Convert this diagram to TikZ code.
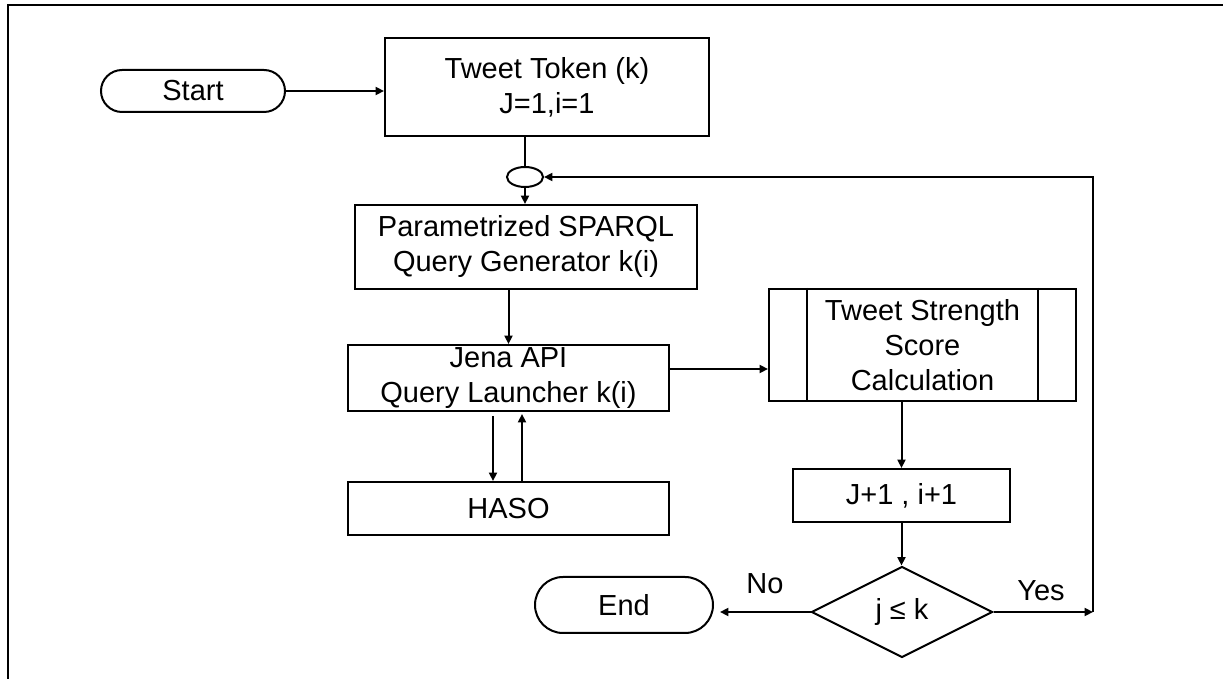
\documentclass[tikz,border=0pt]{standalone}
\usepackage{fontspec}
\setmainfont{Liberation Sans}
\usetikzlibrary{shapes.geometric,shapes.misc,arrows.meta}
\tikzset{
  every node/.style={font=\fontsize{14.5}{17.5}\selectfont, align=center, inner sep=0pt},
  box/.style={draw, line width=1pt, rectangle},
  term/.style={draw, line width=1pt, rounded rectangle},
  junction/.style={draw, line width=1pt, ellipse},
  decision/.style={draw, line width=1pt, diamond, aspect=2},
  arr/.style={line width=1pt, -{Triangle[length=4.2pt,width=4pt]}},
  link/.style={line width=1pt},
  lbl/.style={}
}
\begin{document}
\begin{tikzpicture}[x=0.5pt,y=-0.5pt]
  \useasboundingbox (0,0) rectangle (1223,679);
  % outer frame (top and left edges)
  \draw[line width=1.3pt] (8,679) -- (8,5) -- (1223,5);

  % nodes
  \node[term, minimum width=92pt, minimum height=21pt] (start) at (193,91) {Start};
  \node[box, minimum width=162pt, minimum height=49pt] (token) at (547,87) {Tweet Token (k)\\J=1,i=1};
  \node[junction, minimum width=18pt, minimum height=10pt] (join) at (525,177) {};
  \node[box, minimum width=171pt, minimum height=42pt] (param) at (526,247) {Parametrized SPARQL\\Query Generator k(i)};
  \node[box, minimum width=160.5pt, minimum height=33pt] (jena) at (508.5,378) {Jena API\\Query Launcher k(i)};
  \node[box, minimum width=160.5pt, minimum height=26.5pt] (haso) at (508.5,508.5) {HASO};
  \node[box, minimum width=153.5pt, minimum height=56pt] (tss) at (922.5,345) {Tweet Strength\\Score\\Calculation};
  \draw[line width=1pt] ([xshift=19.5pt]tss.north west) -- ([xshift=19.5pt]tss.south west);
  \draw[line width=1pt] ([xshift=-19.5pt]tss.north east) -- ([xshift=-19.5pt]tss.south east);
  \node[box, minimum width=108.5pt, minimum height=26.5pt] (inc) at (901.5,495.5) {J+1 , i+1};
  \node[decision, minimum width=90.5pt, minimum height=45.5pt] (dia) at (902,612) {j ≤ k};
  \node[term, minimum width=89pt, minimum height=28pt] (end) at (624,605) {End};
  \coordinate (yesend) at (1093,612);

  % labels
  \node[lbl] (nolbl) at (765,584) {No};
  \node[lbl] (yeslbl) at (1041,591) {Yes};

  % connectors
  \draw[arr] (start.east) -- (start.east -| token.west);
  \draw[link] (join.north |- token.south) -- (join.north);
  \draw[arr] (join.south) -- (join.south |- param.north);
  \draw[arr] (jena.north |- param.south) -- (jena.north);
  \draw[arr] ([yshift=4.5pt]jena.east) -- ([yshift=4.5pt]jena.east -| tss.west);
  \draw[arr, shorten <=2pt] ([xshift=-7.75pt]jena.south) -- ([xshift=-7.75pt]haso.north);
  \draw[arr, shorten >=1pt] ([xshift=6.75pt]haso.north) -- ([xshift=6.75pt]jena.south);
  \draw[arr] (inc.north |- tss.south) -- (inc.north);
  \draw[arr] (inc.south) -- (inc.south |- dia.north);
  \draw[arr, shorten >=3pt] (dia.west) -- (dia.west -| end.east);
  \draw[arr] (dia.east) -- (yesend);
  \draw[arr] (yesend) |- (join.east);
\end{tikzpicture}
\end{document}
